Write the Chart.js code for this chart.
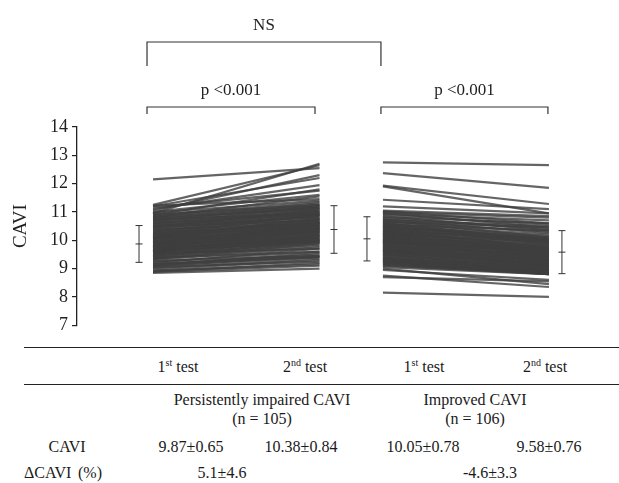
<!DOCTYPE html>
<html>
<head>
<meta charset="utf-8">
<script src="https://cdn.jsdelivr.net/npm/chart.js@4.4.1/dist/chart.umd.min.js"></script>
<style>
  body { margin: 0; background: #fff; }
  #wrap { position: relative; width: 619px; height: 483px; font-family: "Liberation Serif", "Times New Roman", serif; color: #1a1a1a; }
  #cavi { position: absolute; left: 0; top: 0; }
  .t { position: absolute; font-size: 16px; line-height: 1; white-space: nowrap; transform: translate(-50%, -50%); }
  .t.l { transform: translate(0, -50%); }
  .t sup { font-size: 10px; line-height: 0; vertical-align: 6px; }
  .rule { position: absolute; left: 24px; right: 0; border-top: 1.5px solid #222; }
</style>
</head>
<body>
<div id="wrap">
  <canvas id="cavi" width="619" height="340"></canvas>

  <div class="rule" style="top:347px"></div>
  <div class="t" style="left:178px;top:367px">1<sup>st</sup> test</div>
  <div class="t" style="left:305px;top:367px">2<sup>nd</sup> test</div>
  <div class="t" style="left:424px;top:367px">1<sup>st</sup> test</div>
  <div class="t" style="left:545px;top:367px">2<sup>nd</sup> test</div>
  <div class="rule" style="top:384px"></div>

  <div class="t" style="left:262px;top:400px">Persistently impaired CAVI</div>
  <div class="t" style="left:262px;top:419px">(n = 105)</div>
  <div class="t" style="left:475px;top:400px">Improved CAVI</div>
  <div class="t" style="left:475px;top:419px">(n = 106)</div>

  <div class="t" style="left:67px;top:447px">CAVI</div>
  <div class="t" id="s0" style="left:191px;top:447px"></div>
  <div class="t" id="s1" style="left:301px;top:447px"></div>
  <div class="t" id="s2" style="left:423px;top:447px"></div>
  <div class="t" id="s3" style="left:549px;top:447px"></div>

  <div class="t l" style="left:24px;top:473px">ΔCAVI</div>
  <div class="t l" style="left:78px;top:473px">(%)</div>
  <div class="t" id="d0" style="left:222px;top:473px"></div>
  <div class="t" id="d1" style="left:490px;top:473px"></div>
</div>

<script>
// =========================
// DATA
// =========================
const impairedFirst = [
  8.85, 8.88, 8.9, 8.93, 8.97,
  9.02, 9.05, 9.08, 9.1, 9.12, 9.15, 9.18, 9.2, 9.24, 9.27,
  9.31, 9.33, 9.36, 9.38, 9.4, 9.42, 9.45, 9.47, 9.5, 9.52, 9.54, 9.56, 9.58, 9.59, 9.6,
  9.62, 9.64, 9.65, 9.66, 9.68, 9.7, 9.72, 9.74, 9.75, 9.76, 9.78, 9.8, 9.82, 9.84, 9.85, 9.87, 9.89, 9.9, 9.92, 9.93, 9.95,
  9.97, 10.0, 10.02, 10.04, 10.05, 10.06, 10.08, 10.1, 10.12, 10.14, 10.15, 10.16, 10.18, 10.2, 10.22, 10.24, 10.26, 10.28, 10.3,
  10.32, 10.35, 10.38, 10.4, 10.43, 10.45, 10.48, 10.5, 10.52, 10.55, 10.58, 10.6, 10.62, 10.65,
  10.68, 10.7, 10.73, 10.75, 10.78, 10.8, 10.82, 10.85, 10.88, 10.9, 10.92,
  10.95, 10.98, 11.0, 11.05, 11.1, 11.15, 11.2, 11.22, 11.25,
  12.15
];
const impairedSecond = [
  9.0, 9.1, 9.2, 9.15, 9.3,
  9.35, 9.25, 9.45, 9.4, 9.55, 9.5, 9.4, 9.7, 9.6, 9.45,
  9.75, 9.9, 9.8, 9.6, 10.0, 9.85, 9.95, 10.1, 9.9, 10.05, 9.7, 10.2, 9.95, 10.15, 10.0,
  10.1, 10.3, 9.95, 10.2, 10.15, 10.4, 10.05, 10.25, 10.35, 10.0, 10.5, 10.2, 10.3, 10.45, 10.1, 10.6, 10.35, 10.25, 10.55, 10.4, 10.3,
  10.5, 10.45, 10.65, 10.35, 10.7, 10.55, 10.4, 10.8, 10.6, 10.5, 10.75, 10.65, 10.45, 10.9, 10.7, 10.6, 10.85, 10.55, 10.95,
  10.75, 10.9, 10.6, 11.0, 10.85, 11.1, 10.7, 10.95, 11.05, 10.8, 11.15, 11.0, 10.9, 11.2,
  11.05, 11.25, 10.95, 11.15, 11.3, 11.1, 11.55, 11.2, 11.35, 11.8, 11.25,
  12.7, 11.4, 11.6, 12.3, 11.95, 11.75, 12.2, 11.45, 12.65,
  12.55
];
const improvedFirst = [
  12.75, 12.37, 11.93, 11.9, 11.43, 11.2,
  11.05, 11.02, 11.0, 10.97, 10.93, 10.9, 10.85, 10.82,
  10.78, 10.75, 10.72, 10.7, 10.67, 10.65, 10.62, 10.6, 10.58, 10.55, 10.53, 10.52, 10.5,
  10.48, 10.46, 10.44, 10.42, 10.4, 10.38, 10.36, 10.34, 10.32, 10.3, 10.28, 10.26, 10.25, 10.23, 10.22, 10.2,
  10.18, 10.16, 10.14, 10.12, 10.1, 10.08, 10.06, 10.05, 10.03, 10.02, 10.0, 9.98, 9.97, 9.95, 9.94, 9.93, 9.92, 9.9,
  9.88, 9.86, 9.84, 9.82, 9.8, 9.78, 9.76, 9.74, 9.72, 9.7, 9.68, 9.66, 9.65, 9.63, 9.62, 9.6,
  9.58, 9.56, 9.54, 9.52, 9.5, 9.48, 9.45, 9.42, 9.4, 9.38, 9.36, 9.34, 9.32, 9.3,
  9.28, 9.26, 9.24, 9.22, 9.2, 9.17, 9.15, 9.12, 9.1,
  9.05, 9.0, 8.95, 8.75, 8.7, 8.15
];
const improvedSecond = [
  12.65, 11.85, 11.28, 10.95, 11.1, 10.95,
  10.85, 10.6, 10.8, 10.45, 10.7, 10.55, 10.35, 10.6,
  10.4, 10.25, 10.5, 10.1, 10.3, 10.45, 9.95, 10.2, 10.05, 10.35, 9.9, 10.15, 10.0,
  10.05, 9.85, 10.1, 9.7, 9.95, 10.0, 9.6, 9.9, 9.75, 10.05, 9.8, 9.55, 9.85, 9.7, 9.95, 9.65,
  9.7, 9.45, 9.8, 9.6, 9.75, 9.5, 9.65, 9.35, 9.7, 9.55, 9.6, 9.4, 9.5, 9.65, 9.3, 9.55, 9.45, 9.6,
  9.4, 9.25, 9.45, 9.2, 9.35, 9.5, 9.15, 9.3, 9.4, 9.1, 9.25, 9.35, 9.05, 9.2, 9.3, 9.15,
  9.1, 9.2, 9.0, 9.15, 8.95, 9.05, 9.1, 8.9, 9.0, 8.95, 9.05, 8.85, 8.95, 8.9,
  8.85, 8.95, 8.8, 8.9, 8.85, 8.8, 8.9, 8.8, 8.85,
  8.8, 8.45, 8.6, 8.35, 8.55, 8.0
];

// mean and SD per test (impaired 1st, 2nd, improved 1st, 2nd)
const testMeans = [9.87, 10.38, 10.05, 9.58];
const testSDs = [0.65, 0.84, 0.78, 0.76];
const deltaMeans = [5.1, -4.6];
const deltaSDs = [4.6, 3.3];
const yTicks = [7, 8, 9, 10, 11, 12, 13, 14];
const bracketLabels = ["NS", "p <0.001", "p <0.001"];

// =========================
// LAYOUT (x units on the hidden x scale)
// =========================
const xImpaired = [0, 1.0];
const xImproved = [1.381, 2.378];
const xBars = [-0.084, 1.087, 1.285, 2.456];
const bracketSpans = [[-0.036, 1.369], [-0.036, 0.973], [1.369, 2.372]];
const bracketRows = [ // px above the plot top: label, bar, foot
  { text: 101, bar: 85, foot: 61 },
  { text: 36, bar: 20, foot: 13 },
  { text: 36, bar: 20, foot: 13 }
];

const ink = "#1f1f1f";
const lineInk = "rgba(62,62,62,0.8)";
const serif = "'Liberation Serif', 'Times New Roman', serif";

// table numbers
const fmt = (m, s) => `${m.toFixed(2)}±${s.toFixed(2)}`;
testMeans.forEach((m, i) => {
  document.getElementById("s" + i).textContent = fmt(m, testSDs[i]);
});
deltaMeans.forEach((m, i) => {
  document.getElementById("d" + i).textContent = `${m.toFixed(1)}±${deltaSDs[i].toFixed(1)}`;
});

// =========================
// DATASETS
// =========================
function pairLines(first, second, xs) {
  return first.map((v, i) => ({
    data: [{ x: xs[0], y: v }, { x: xs[1], y: second[i] }],
    borderColor: lineInk,
    borderWidth: 2.2,
    pointRadius: 0,
    tension: 0
  }));
}

const errorBars = testMeans.map((m, i) => ({
  data: [
    { x: xBars[i], y: m - testSDs[i] },
    { x: xBars[i], y: m },
    { x: xBars[i], y: m + testSDs[i] }
  ],
  borderColor: "#333",
  borderWidth: 1,
  pointStyle: "line",
  pointRadius: 3.5,
  pointBorderColor: "#333",
  pointBorderWidth: 1
}));

// =========================
// BRACKETS PLUGIN
// =========================
const bracketPlugin = {
  id: "brackets",
  afterDraw(chart) {
    const { ctx, chartArea, scales } = chart;
    ctx.save();
    ctx.strokeStyle = "#333";
    ctx.lineWidth = 1.2;
    ctx.fillStyle = ink;
    ctx.font = "17px " + serif;
    ctx.textAlign = "center";
    ctx.textBaseline = "middle";
    bracketSpans.forEach((span, i) => {
      const x0 = scales.x.getPixelForValue(span[0]);
      const x1 = scales.x.getPixelForValue(span[1]);
      const row = bracketRows[i];
      const yBar = chartArea.top - row.bar;
      const yFoot = chartArea.top - row.foot;
      ctx.beginPath();
      ctx.moveTo(x0, yFoot);
      ctx.lineTo(x0, yBar);
      ctx.lineTo(x1, yBar);
      ctx.lineTo(x1, yFoot);
      ctx.stroke();
      ctx.fillText(bracketLabels[i], (x0 + x1) / 2, chartArea.top - row.text);
    });
    ctx.restore();
  }
};

// =========================
// CHART
// =========================
new Chart(document.getElementById("cavi"), {
  type: "line",
  data: {
    datasets: [
      ...pairLines(impairedFirst, impairedSecond, xImpaired),
      ...pairLines(improvedFirst, improvedSecond, xImproved),
      ...errorBars
    ]
  },
  options: {
    responsive: false,
    animation: false,
    layout: { padding: { left: 0, right: 19, top: 127, bottom: 14 } },
    plugins: { legend: { display: false }, tooltip: { enabled: false } },
    scales: {
      x: { type: "linear", display: false, min: -0.4565, max: 2.6847 },
      y: {
        min: yTicks[0],
        max: yTicks[yTicks.length - 1],
        afterFit: s => { s.width = 77; },
        afterBuildTicks: s => { s.ticks = yTicks.map(v => ({ value: v })); },
        ticks: { color: ink, font: { family: serif, size: 18 }, padding: 4 },
        grid: { drawOnChartArea: false, tickLength: 5, color: "#222", lineWidth: 1.2 },
        border: { color: "#222", width: 1.3 },
        title: {
          display: true,
          text: "CAVI",
          color: ink,
          font: { family: serif, size: 19 },
          padding: { top: 10, bottom: 0 }
        }
      }
    }
  },
  plugins: [bracketPlugin]
});
</script>
</body>
</html>
